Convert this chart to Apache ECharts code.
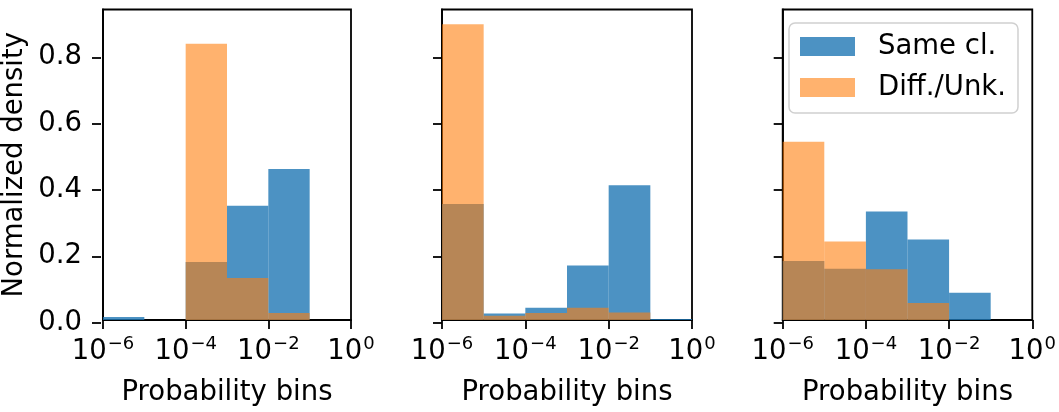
<!DOCTYPE html>
<html>
<head>
<meta charset="utf-8">
<script src="https://cdn.jsdelivr.net/npm/echarts@6/dist/echarts.min.js"></script>
<style>
html,body{margin:0;padding:0;background:#fff;}
#chart{width:1059px;height:412px;}
</style>
</head>
<body>
<div id="chart"></div>
<script>
// Bin edges as log10 exponents of probability
var binEdges = [-6, -5, -4, -3, -2, -1, 0];
var xTickStep = 2;
var yTickMax = 0.8;
var yTickStep = 0.2;
var yMax = 0.944;
var seriesNames = ['Same cl.', 'Diff./Unk.'];

var same1 = [0.009, 0, 0.176, 0.347, 0.459, 0];
var diff1 = [0, 0, 0.840, 0.128, 0.021, 0];
var same2 = [0.353, 0.020, 0.037, 0.166, 0.410, 0.003];
var diff2 = [0.899, 0.013, 0.021, 0.037, 0.023, 0];
var same3 = [0.179, 0.156, 0.330, 0.245, 0.083, 0];
var diff3 = [0.542, 0.239, 0.154, 0.052, 0, 0];

var panels = [[same1, diff1], [same2, diff2], [same3, diff3]];
var colors = ['rgba(31,119,180,0.8)', 'rgba(255,127,14,0.6)'];
var FONT = 'DejaVu Sans';
var FS = 27.5;

var gridLefts = [101, 442, 782.7];
var gridW = 250;
var gridTop = 9.5, gridH = 313.2;
var tickTop = gridTop + gridH * (1 - yTickMax / yMax);
var tickH = gridH * yTickMax / yMax;
var grids = [], xAxes = [], yAxes = [], series = [];

function binData(vals) {
  var d = [];
  for (var i = 0; i < vals.length; i++) {
    if (vals[i] > 0) d.push([binEdges[i], binEdges[i + 1], vals[i]]);
  }
  return d;
}

function renderBar(params, api) {
  var p0 = api.coord([api.value(0), api.value(2)]);
  var p1 = api.coord([api.value(1), 0]);
  return {
    type: 'rect',
    shape: {x: p0[0], y: p0[1], width: p1[0] - p0[0], height: p1[1] - p0[1]},
    style: {fill: api.visual('color')}
  };
}

function supLabel(v) {
  var e = v < 0 ? '\u2212' + (-v) : String(v);
  return '{b|10}{s|' + e + '}';
}

var blk = {color: '#000', width: 1.8};

panels.forEach(function (p, k) {
  // data grid (full frame)
  grids.push({
    left: gridLefts[k], width: gridW, top: gridTop, height: gridH,
    show: true, borderColor: '#000', borderWidth: 1.8, backgroundColor: 'transparent'
  });
  xAxes.push({
    type: 'value', gridIndex: k, min: binEdges[0], max: binEdges[binEdges.length - 1], interval: xTickStep,
    position: 'bottom',
    name: 'Probability bins', nameLocation: 'middle', nameGap: 59,
    nameTextStyle: {fontFamily: FONT, fontSize: FS, color: '#000'},
    axisLine: {show: true, onZero: false, lineStyle: blk},
    axisTick: {show: true, length: 9, lineStyle: blk},
    splitLine: {show: false},
    axisLabel: {
      margin: 15, color: '#000', fontFamily: FONT,
      formatter: supLabel,
      rich: {
        b: {fontFamily: FONT, fontSize: FS, color: '#000', lineHeight: 31, verticalAlign: 'bottom'},
        s: {fontFamily: FONT, fontSize: 18, color: '#000', lineHeight: 18, verticalAlign: 'top', padding: [0, 0, 0, 1]}
      }
    }
  });
  yAxes.push({
    type: 'value', gridIndex: k, min: 0, max: yMax, position: 'left',
    name: k === 0 ? 'Normalized density' : '', nameLocation: 'middle', nameGap: 74,
    nameTextStyle: {fontFamily: FONT, fontSize: FS, color: '#000'},
    axisLine: {show: true, onZero: false, lineStyle: blk},
    axisTick: {show: false}, axisLabel: {show: false}, splitLine: {show: false}
  });
  p.forEach(function (vals, s) {
    series.push({
      type: 'custom', name: seriesNames[s], xAxisIndex: k, yAxisIndex: k,
      renderItem: renderBar, itemStyle: {color: colors[s]},
      encode: {x: [0, 1], y: 2},
      data: binData(vals), z: 2 + s, silent: true
    });
  });
});

// tick grids: same x extent, y from 0 to the last labelled tick
panels.forEach(function (p, k) {
  grids.push({left: gridLefts[k], width: gridW, top: tickTop, height: tickH, show: false});
  xAxes.push({type: 'value', gridIndex: 3 + k, min: -6, max: 0, show: false, axisLine: {onZero: false}});
  yAxes.push({
    type: 'value', gridIndex: 3 + k, min: 0, max: yTickMax, interval: yTickStep, position: 'left',
    axisLine: {show: false, onZero: false},
    axisTick: {show: true, length: 9, lineStyle: blk},
    splitLine: {show: false},
    axisLabel: {
      show: k === 0, margin: 19, color: '#000', fontFamily: FONT, fontSize: FS,
      formatter: function (v) { return v.toFixed(1); }
    }
  });
});

var chart = echarts.init(document.getElementById('chart'), null, {renderer: 'canvas'});
chart.setOption({
  animation: false,
  backgroundColor: '#fff',
  grid: grids, xAxis: xAxes, yAxis: yAxes, series: series,
  legend: {
    data: seriesNames.map(function (n, i) { return {name: n, icon: 'rect', itemStyle: {color: colors[i]}}; }),
    orient: 'vertical', left: 789, top: 23,
    itemWidth: 55, itemHeight: 19, itemGap: 10,
    padding: [8, 12, 10, 11],
    borderColor: '#d0d0d0', borderWidth: 1.5, borderRadius: 6,
    backgroundColor: 'rgba(255,255,255,0.8)',
    selectedMode: false,
    textStyle: {fontFamily: FONT, fontSize: FS, color: '#000', lineHeight: 31, padding: [0, 0, 0, 18]}
  }
});
</script>
</body>
</html>
